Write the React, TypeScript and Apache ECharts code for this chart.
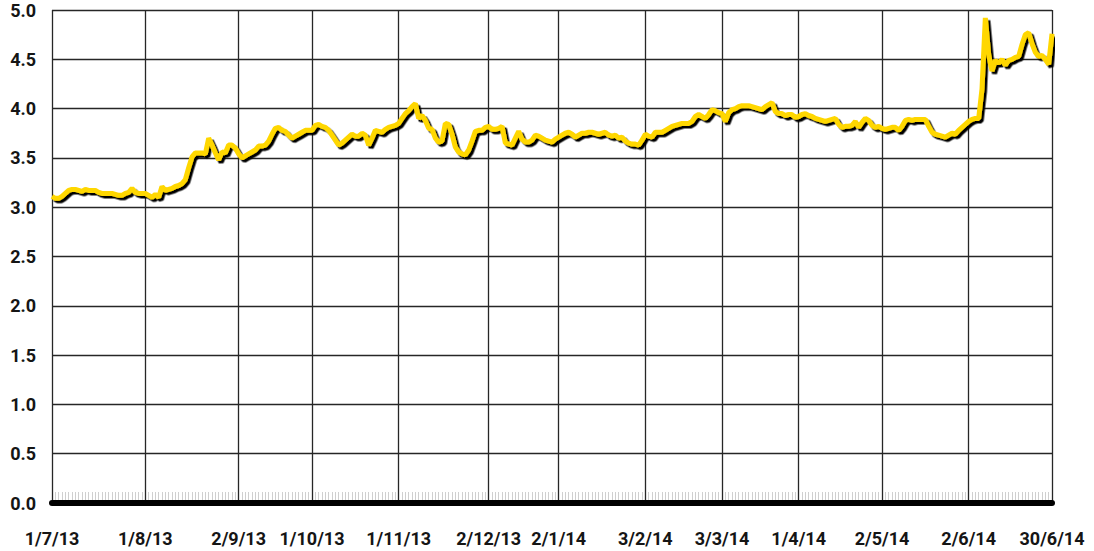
import React, { useEffect, useRef } from "react";
import * as echarts from "echarts";

// Yield-like series, one value per trading-day slot (301 slots)
const values: number[] = [
  3.11, 3.09, 3.09, 3.11, 3.14, 3.17, 3.18, 3.18, 3.17, 3.16,
  3.18, 3.17, 3.17, 3.17, 3.15, 3.14, 3.14, 3.14, 3.14, 3.13,
  3.12, 3.12, 3.14, 3.15, 3.19, 3.15, 3.14, 3.14, 3.14, 3.12,
  3.10, 3.13, 3.10, 3.21, 3.17, 3.18, 3.19, 3.21, 3.22, 3.24,
  3.28, 3.40, 3.51, 3.55, 3.55, 3.55, 3.54, 3.70, 3.63, 3.55,
  3.48, 3.56, 3.55, 3.63, 3.63, 3.60, 3.54, 3.50, 3.52, 3.54,
  3.56, 3.58, 3.62, 3.62, 3.63, 3.67, 3.74, 3.80, 3.81, 3.78,
  3.77, 3.73, 3.70, 3.72, 3.74, 3.76, 3.78, 3.78, 3.78, 3.83,
  3.84, 3.82, 3.81, 3.78, 3.73, 3.68, 3.63, 3.65, 3.68, 3.71,
  3.74, 3.72, 3.72, 3.75, 3.73, 3.63, 3.70, 3.78, 3.77, 3.76,
  3.79, 3.81, 3.82, 3.83, 3.85, 3.90, 3.95, 3.98, 4.02, 4.05,
  3.90, 3.93, 3.88, 3.80, 3.79, 3.70, 3.66, 3.67, 3.85, 3.84,
  3.74, 3.61, 3.56, 3.54, 3.53, 3.58, 3.67, 3.77, 3.78, 3.78,
  3.81, 3.82, 3.79, 3.79, 3.80, 3.82, 3.65, 3.64, 3.63, 3.70,
  3.77, 3.69, 3.66, 3.66, 3.68, 3.73, 3.72, 3.70, 3.68, 3.67,
  3.66, 3.69, 3.71, 3.73, 3.75, 3.76, 3.74, 3.71, 3.73, 3.75,
  3.75, 3.76, 3.76, 3.75, 3.74, 3.75, 3.76, 3.73, 3.72, 3.73,
  3.70, 3.71, 3.67, 3.65, 3.64, 3.64, 3.63, 3.68, 3.74, 3.72,
  3.71, 3.76, 3.76, 3.76, 3.78, 3.80, 3.82, 3.83, 3.84, 3.85,
  3.85, 3.85, 3.87, 3.92, 3.94, 3.92, 3.90, 3.94, 3.99, 3.98,
  3.96, 3.95, 3.87, 3.96, 3.99, 4.00, 4.02, 4.03, 4.03, 4.03,
  4.02, 4.01, 4.00, 3.99, 4.02, 4.04, 4.06, 3.97, 3.95, 3.95,
  3.93, 3.94, 3.94, 3.91, 3.92, 3.94, 3.95, 3.93, 3.92, 3.90,
  3.89, 3.88, 3.87, 3.88, 3.89, 3.90, 3.84, 3.81, 3.82, 3.82,
  3.83, 3.87, 3.81, 3.86, 3.90, 3.88, 3.83, 3.81, 3.82, 3.80,
  3.79, 3.80, 3.81, 3.81, 3.78, 3.82, 3.88, 3.89, 3.88, 3.89,
  3.89, 3.89, 3.89, 3.82, 3.76, 3.74, 3.73, 3.72, 3.71, 3.73,
  3.75, 3.74, 3.78, 3.81, 3.84, 3.87, 3.89, 3.90, 3.90, 4.20,
  4.92, 4.55, 4.38, 4.49, 4.46, 4.50, 4.44, 4.49, 4.50, 4.52,
  4.53, 4.65, 4.75, 4.77, 4.66, 4.57, 4.53, 4.54, 4.50, 4.45,
  4.76,
];

// Date labels and the slot each one sits on
const tickLabels: string[] = [
  "1/7/13", "1/8/13", "2/9/13", "1/10/13", "1/11/13", "2/12/13", "2/1/14",
  "3/2/14", "3/3/14", "1/4/14", "2/5/14", "2/6/14", "30/6/14",
];
const tickSlots: number[] = [0, 28, 56, 78, 104, 131, 152, 178, 201, 224, 249, 275, 300];

const yMin = 0;
const yMax = 5;
const yStep = 0.5;

export default function App() {
  const ref = useRef<HTMLDivElement>(null);

  useEffect(() => {
    if (!ref.current) return;
    const chart = echarts.init(ref.current, null, { renderer: "svg" });

    const categories: string[] = values.map(() => "");
    tickSlots.forEach((s, k) => {
      categories[s] = tickLabels[k];
    });
    const isLabeled = (i: number) => categories[i] !== "";

    const font = "Roboto, 'Noto Sans', sans-serif";

    chart.setOption({
      animation: false,
      backgroundColor: "#ffffff",
      grid: { left: 52, right: 42, top: 10, bottom: 48, containLabel: false },
      xAxis: [
        {
          type: "category",
          position: "bottom",
          data: categories,
          boundaryGap: false,
          axisLine: { show: true, lineStyle: { color: "#000", width: 6 } },
          axisTick: { show: false },
          axisLabel: {
            show: true,
            interval: (i: number) => isLabeled(i),
            color: "#151515",
            fontFamily: font,
            fontWeight: "bold",
            fontSize: 18,
            margin: 26,
            showMinLabel: true,
            showMaxLabel: true,
          },
          splitLine: {
            show: true,
            interval: (i: number) => isLabeled(i),
            lineStyle: { color: "#262626", width: 1.3 },
          },
          z: 3,
        },
        {
          type: "category",
          position: "bottom",
          data: categories,
          boundaryGap: false,
          offset: -3,
          axisLine: { show: false },
          axisTick: {
            show: true,
            interval: 0,
            inside: true,
            length: 8,
            lineStyle: { color: "#cfcfcf", width: 1 },
          },
          axisLabel: { show: false },
          splitLine: { show: false },
        },
      ],
      yAxis: {
        type: "value",
        min: yMin,
        max: yMax,
        interval: yStep,
        axisLine: { show: false },
        axisTick: { show: false },
        axisLabel: {
          color: "#151515",
          fontFamily: font,
          fontWeight: "bold",
          fontSize: 18,
          margin: 16,
          formatter: (v: number) => v.toFixed(1),
        },
        splitLine: { show: true, lineStyle: { color: "#262626", width: 1.3 } },
      },
      series: [
        {
          type: "line",
          data: values,
          xAxisIndex: 0,
          showSymbol: false,
          symbol: "none",
          z: 5,
          lineStyle: {
            color: "#FFD700",
            width: 5,
            shadowColor: "#000000",
            shadowBlur: 0,
            shadowOffsetX: 2.5,
            shadowOffsetY: 2.5,
          },
        },
      ],
    });

    return () => chart.dispose();
  }, []);

  return (
    <div
      ref={ref}
      style={{ position: "fixed", left: 0, top: 0, width: 1094, height: 551 }}
    />
  );
}
